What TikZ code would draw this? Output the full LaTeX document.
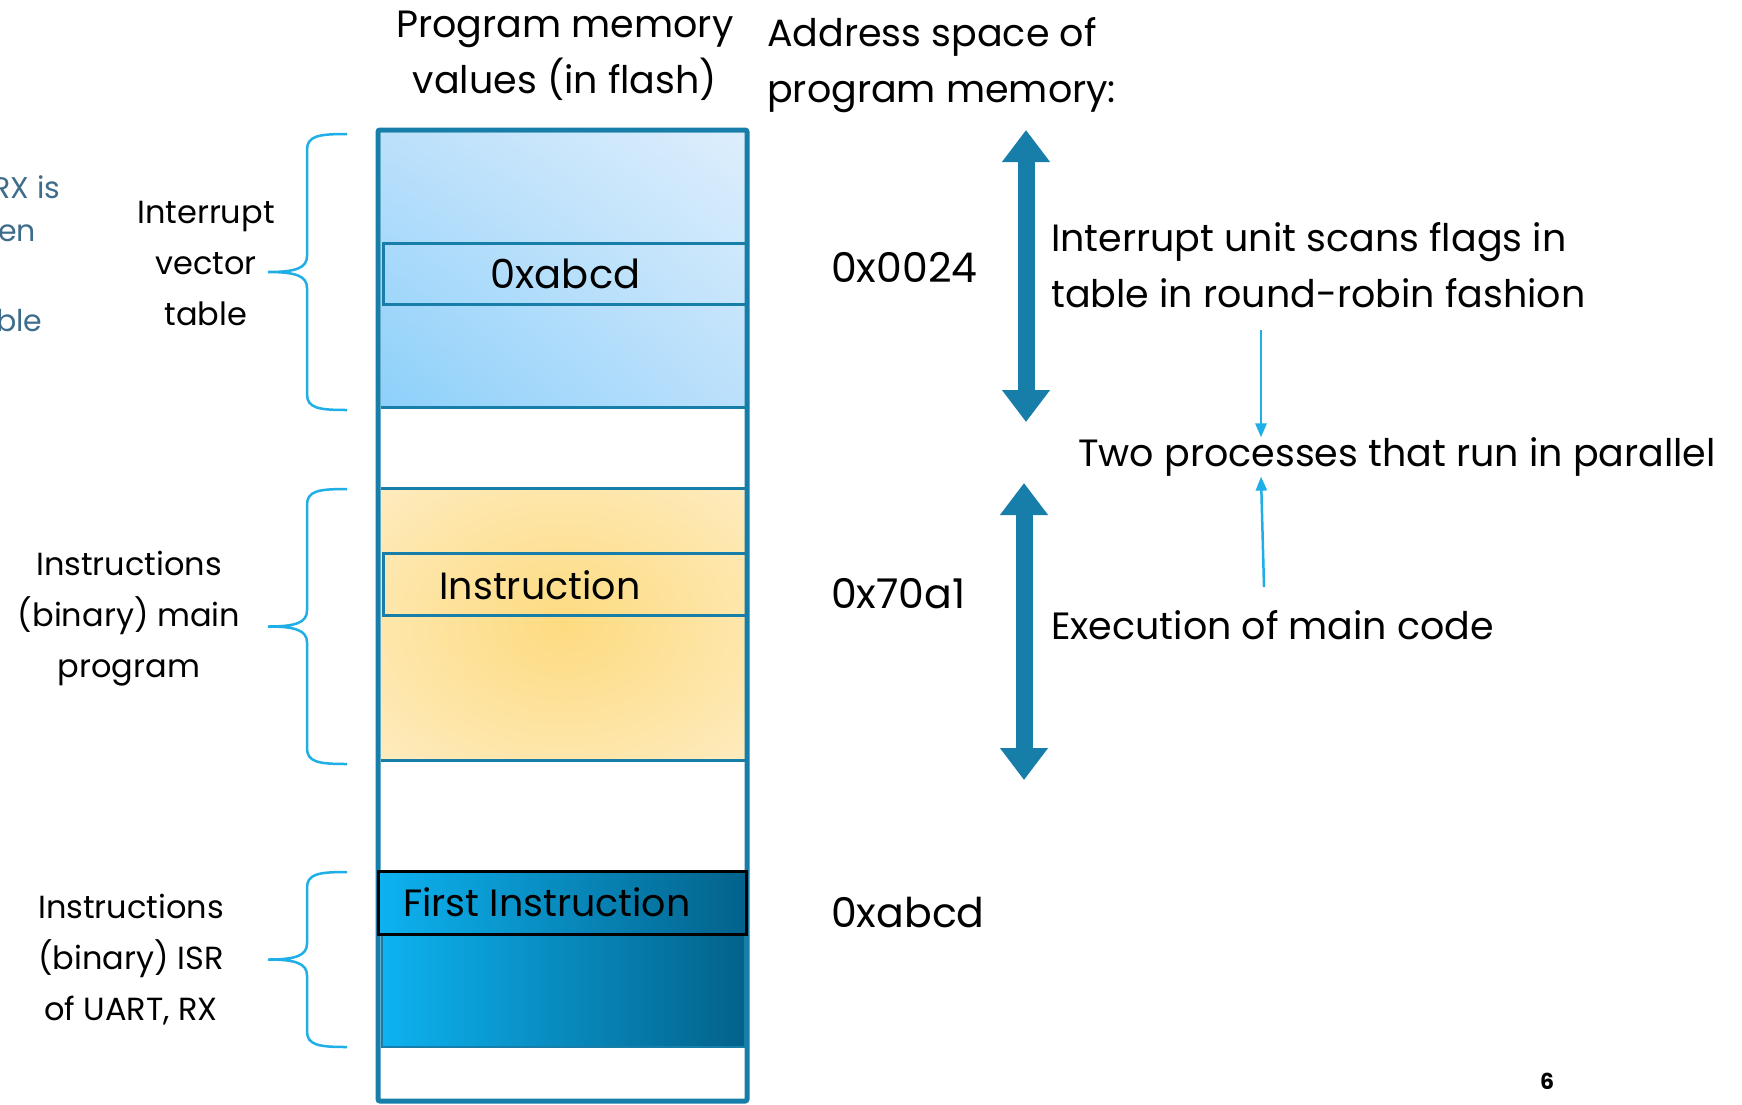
\documentclass[tikz,border=0pt]{standalone}
\usepackage{fontspec}
\setmainfont{Poppins}
\usetikzlibrary{arrows.meta,shadings}

\definecolor{memedge}{HTML}{167EA8}
\definecolor{bracecol}{HTML}{1FAEE6}
\definecolor{fadedtxt}{HTML}{3E6D8B}
\definecolor{vecdark}{HTML}{8DD0FA}
\definecolor{vecmid}{HTML}{BBE0FB}
\definecolor{veclight}{HTML}{DDEEFC}
\definecolor{codeglow}{HTML}{FDDB80}
\definecolor{codepale}{HTML}{FFF1D4}
\definecolor{isrleft}{HTML}{0DB2F0}
\definecolor{isrright}{HTML}{03628B}

\pgfdeclareradialshading{codeshade}{\pgfpoint{0bp}{0bp}}{color(0bp)=(codeglow); color(48bp)=(codepale); color(80bp)=(codepale)}

\begin{document}
\begin{tikzpicture}[x=1pt, y=-1pt,
    every node/.style={inner sep=0pt, font=\fontsize{38}{56}\selectfont},
    label/.style={align=center},
    lefttxt/.style={align=center, font=\fontsize{32}{51}\selectfont},
    addr/.style={anchor=west, font=\fontsize{41}{50}\selectfont},
    seg/.style={draw=memedge, line width=3pt},
    bigarrow/.style={memedge, line width=17pt, {Triangle[width=46pt,length=32pt]}-{Triangle[width=46pt,length=32pt]}},
    flow/.style={bracecol, line width=2.5pt, -{Triangle[width=11pt,length=14pt]}},
    braceline/.style={bracecol, line width=2.5pt},
    cuttxt/.style={anchor=west, text=fadedtxt, font=\fontsize{30}{34}\selectfont}]
    \useasboundingbox (0,0) rectangle (1742,1104);

    % column of program memory
    \shade[upper left=vecmid, upper right=veclight, lower left=vecdark, lower right=vecmid] (381,133) rectangle (745,407);
    \draw[seg] (381,407) -- (745,407);
    \node[seg, minimum width=364pt, minimum height=61pt, anchor=north west, font=\fontsize{40}{50}\selectfont] (vecslot) at (382,242) {0xabcd};

    \shade[shading=codeshade] (381,488) rectangle (745,760);
    \draw[seg] (381,488) -- (745,488);
    \draw[seg] (381,760) -- (745,760);
    \node[seg, minimum width=363pt, minimum height=62pt, anchor=north west] (instr) at (382,552) {};
    \node (instrtxt) at (540,585) {Instruction};

    \shade[left color=isrleft, right color=isrright] (382,933) rectangle (745,1047);
    \draw[memedge, line width=2pt] (382,933) rectangle (745,1047);

    \draw[memedge, line width=5pt, rounded corners=2pt] (378,130) rectangle (747,1101);

    \node[draw=black, line width=3pt, left color=isrleft, right color=isrright,
      minimum width=368pt, minimum height=63pt, anchor=north west] (first) at (377,870) {};
    \node[anchor=west] (firsttxt) at (403,902) {First Instruction};

    % headings
    \node[label] (flashhdr) at (565,56) {Program memory\\values (in flash)};
    \node[label, align=left, anchor=west] (addrhdr) at (767,65) {Address space of\\program memory:};

    % addresses
    \node[addr] (addrvec) at (831,267) {0x0024};
    \node[addr] (addrmain) at (831,594) {0x70a1};
    \node[addr] (addrisr) at (831,912) {0xabcd};

    % the two processes
    \coordinate (scantop) at (1026,130);
    \coordinate (scanbot) at (1026,422);
    \draw[bigarrow] (scantop) -- (scanbot);
    \coordinate (maintop) at (1024,483);
    \coordinate (mainbot) at (1024,780);
    \draw[bigarrow] (maintop) -- (mainbot);

    \node[align=left, anchor=west] (scan) at (1051,265) {Interrupt unit scans flags in\\table in round-robin fashion};
    \node[anchor=west] (two) at (1078,457) {Two processes that run in parallel};
    \node[anchor=west] (exec) at (1051,625) {Execution of main code};
    \coordinate (scanfoot) at (1261,330);
    \coordinate (execfoot) at (1264,587);
    \draw[flow] (scanfoot) -- (scanfoot |- two.north);
    \draw[flow] (execfoot) -- (two.south -| scanfoot);

    % braces and what they group
    \foreach \t/\b in {134/410, 489/764, 872/1047}{
      \pgfmathsetmacro\m{(\t+\b)/2}
      \draw[braceline] (347,\t) .. controls (318,\t) and (307,\t+2) .. (307,\t+16)
        -- (307,\m-16) .. controls (307,\m-4) and (296,\m) .. (268,\m)
        .. controls (296,\m) and (307,\m+4) .. (307,\m+16)
        -- (307,\b-16) .. controls (307,\b-2) and (318,\b) .. (347,\b);
    }
    \node[lefttxt] (vectbl) at (206,263) {Interrupt\\vector\\table};
    \node[lefttxt] (mainprog) at (129,619) {Instructions\\(binary) main\\program};
    \node[lefttxt] (isrprog) at (131,960) {Instructions\\(binary) ISR\\of UART, RX};

    % text cut off at the left edge
    \node[cuttxt] (cut1) at (-8,187) {RX is};
    \node[cuttxt] (cut2) at (-2,233) {en};
    \node[cuttxt] (cut3) at (-4,321) {ble};

    \node[font=\fontsize{22}{24}\selectfont\bfseries] (pagenum) at (1547,1081) {6};
\end{tikzpicture}
\end{document}
